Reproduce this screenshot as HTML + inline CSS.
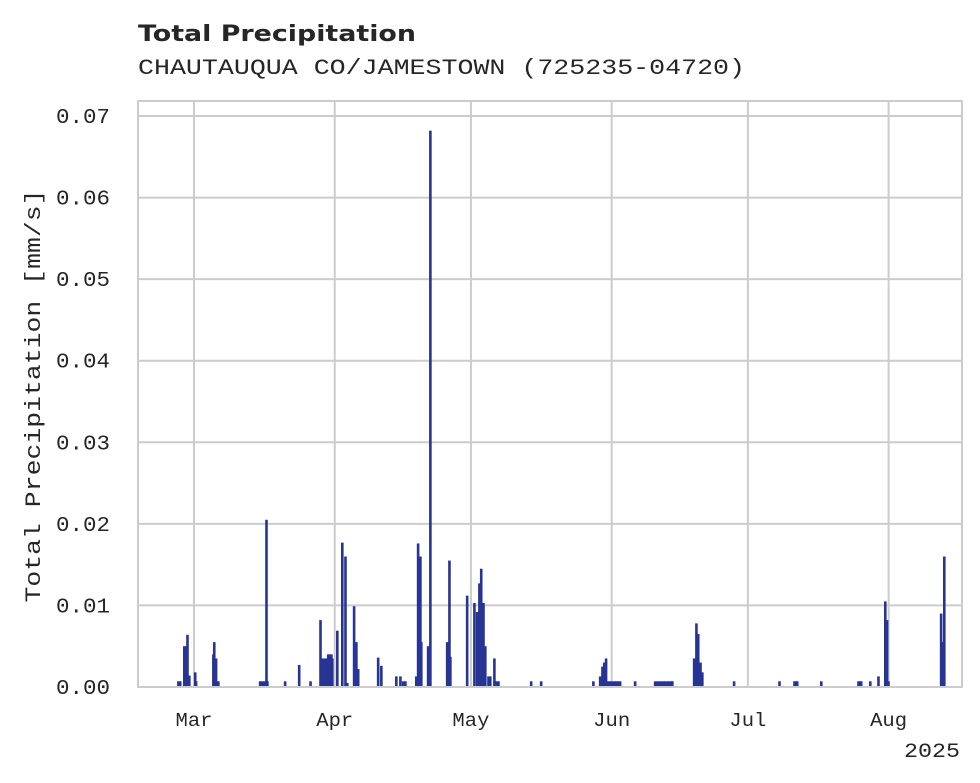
<!DOCTYPE html>
<html><head><meta charset="utf-8"><style>
html,body{margin:0;padding:0;background:#fff;}
svg{display:block;}
text{font-family:"Liberation Mono",monospace;fill:#262626;}
</style></head><body>
<svg id="chart" width="980" height="783" viewBox="0 0 980 783">
<text x="138" y="41" textLength="278" lengthAdjust="spacingAndGlyphs" style="font-family:'DejaVu Sans','Liberation Sans',sans-serif;font-weight:bold;font-size:22px">Total Precipitation</text>
<text x="138" y="74" textLength="607" lengthAdjust="spacingAndGlyphs" style="font-size:22px">CHAUTAUQUA CO/JAMESTOWN (725235-04720)</text>
<g id="grid"></g>
<g id="bars"></g>
<rect x="138" y="101" width="824" height="586" fill="none" stroke="#cccccc" stroke-width="2"/>
<g id="axes"></g>
<text x="40" y="396" transform="rotate(-90 40 396)" text-anchor="middle" textLength="413" lengthAdjust="spacingAndGlyphs" style="font-size:22px">Total Precipitation [mm/s]</text>
<text x="960" y="757" text-anchor="end" textLength="56" lengthAdjust="spacingAndGlyphs" style="font-size:20px">2025</text>
</svg>
<script>
const days = [-3.5,-3.1,-2.2,-1.8,-1.5,-1.1,0.2,0.4,4.2,4.4,4.8,5.3,14.5,15.0,15.4,15.9,16.1,20.0,23.1,25.6,27.8,28.2,28.6,29.1,29.5,30.0,30.2,30.4,31.5,32.6,33.3,33.7,35.2,35.7,36.1,40.5,41.2,44.5,45.4,46.0,46.5,48.9,49.3,49.8,50.0,51.5,52.0,55.7,56.2,56.4,60.1,61.7,62.3,62.8,63.2,63.7,64.1,64.8,65.2,66.1,66.5,67.0,74.2,76.4,87.9,89.4,89.9,90.3,90.7,91.2,91.6,92.1,92.5,92.95,93.4,93.8,97.1,101.5,102.0,102.4,102.9,103.3,103.7,104.2,104.6,105.1,105.3,110.1,110.6,111.0,111.5,111.9,118.9,128.9,132.2,132.6,132.8,138.1,146.3,146.7,146.9,148.9,150.7,152.2,152.6,152.9,164.5,164.8,165.2];
const values = [0.0007,0.0007,0.005,0.005,0.0064,0.0014,0.0018,0.0007,0.004,0.0055,0.0035,0.0007,0.0007,0.0007,0.0007,0.0205,0.0007,0.0007,0.0027,0.0007,0.0082,0.0035,0.0035,0.0035,0.004,0.004,0.004,0.0035,0.0069,0.0177,0.016,0.0005,0.0099,0.0055,0.0022,0.0036,0.0026,0.0013,0.0013,0.0007,0.0007,0.0013,0.0176,0.016,0.0055,0.005,0.0682,0.0055,0.0155,0.0037,0.0112,0.0103,0.0092,0.0127,0.0145,0.0103,0.005,0.0013,0.0013,0.0035,0.0007,0.0007,0.0007,0.0007,0.0007,0.0013,0.0025,0.003,0.0035,0.0007,0.0007,0.0007,0.0007,0.0007,0.0007,0.0007,0.0007,0.0007,0.0007,0.0007,0.0007,0.0007,0.0007,0.0007,0.0007,0.0007,0.0007,0.0035,0.0078,0.0065,0.003,0.0018,0.0007,0.0007,0.0007,0.0007,0.0007,0.0007,0.0007,0.0007,0.0007,0.0007,0.0013,0.0105,0.0082,0.0007,0.009,0.0055,0.016];
const yTicks = [0,0.01,0.02,0.03,0.04,0.05,0.06,0.07];
const yTickLabels = ["0.00","0.01","0.02","0.03","0.04","0.05","0.06","0.07"];
const monthDays = [0,31,61,92,122,153];
const monthLabels = ["Mar","Apr","May","Jun","Jul","Aug"];

const NS="http://www.w3.org/2000/svg";
const X0=194, PX_PER_DAY=4.54, Y0=687, PX_PER_UNIT=(687-116)/0.07;
function xs(d){return X0+d*PX_PER_DAY;}
function ys(v){return Y0-v*PX_PER_UNIT;}
function mk(tag,attrs,parent){const e=document.createElementNS(NS,tag);for(const k in attrs)e.setAttribute(k,attrs[k]);parent.appendChild(e);return e;}
const grid=document.getElementById('grid'), axes=document.getElementById('axes'), bars=document.getElementById('bars');
yTicks.forEach((t,i)=>{
  const l=mk('line',{x1:138,x2:962,y1:ys(t),y2:ys(t),stroke:'#cccccc','stroke-width':2},grid);
  
  
  const tx=mk('text',{x:110,y:ys(t)+7,'text-anchor':'end','font-size':21,textLength:54,lengthAdjust:'spacingAndGlyphs'},axes);
  tx.textContent=yTickLabels[i];
  
  
});
monthDays.forEach((d,i)=>{
  const l=mk('line',{x1:xs(d),x2:xs(d),y1:101,y2:687,stroke:'#cccccc','stroke-width':2},grid);
  
  
  const tx=mk('text',{x:xs(d),y:726,'text-anchor':'middle','font-size':19,textLength:37,lengthAdjust:'spacingAndGlyphs'},axes);
  tx.textContent=monthLabels[i];
  
  
});
days.forEach((d,i)=>{
  const v=values[i];
  const r=mk('rect',{x:xs(d)-1,y:ys(v),width:2.6,height:Y0-ys(v),fill:'#263494'},bars);
  
  
});
</script>
</body></html>
